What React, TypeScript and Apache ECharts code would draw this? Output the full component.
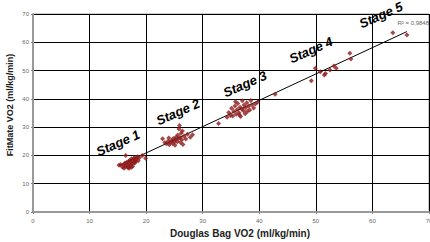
import React, { useEffect, useRef } from "react";
import * as echarts from "echarts";

const stage1 = [
  [15.2, 16.5], [15.5, 16.8], [15.8, 15.9], [16.0, 16.5], [16.2, 17.2], [16.3, 16.0], [16.5, 17.5],
  [16.6, 16.8], [16.8, 15.6], [16.9, 17.9], [17.0, 17.0], [17.1, 18.2], [17.2, 16.4], [17.3, 17.6],
  [17.4, 18.8], [17.5, 17.1], [17.6, 16.2], [17.7, 18.0], [17.8, 19.0], [17.9, 17.5], [18.0, 18.4],
  [18.1, 19.3], [18.2, 17.9], [18.3, 18.8], [18.5, 19.5], [16.4, 20.0], [16.7, 16.2], [17.0, 15.5],
  [18.0, 17.3], [18.8, 19.2], [19.3, 20.0], [19.9, 19.0], [17.4, 15.8], [16.1, 15.5], [18.6, 18.1],
];
const stage2 = [
  [22.9, 25.9], [23.3, 24.6], [23.6, 24.1], [23.9, 25.0], [24.1, 23.8], [24.3, 24.7], [24.5, 25.3],
  [24.7, 24.2], [24.8, 26.0], [25.0, 24.9], [25.1, 23.6], [25.2, 25.6], [25.3, 26.5], [25.5, 24.8],
  [25.6, 27.2], [25.7, 25.9], [25.8, 29.3], [25.9, 30.6], [26.0, 26.3], [26.1, 24.6], [26.2, 27.8],
  [26.3, 25.5], [26.5, 23.9], [26.7, 26.8], [27.0, 25.8], [27.3, 27.5], [27.8, 26.4], [28.2, 27.3],
  [24.0, 26.2], [26.4, 28.6],
];
const stage3 = [
  [32.8, 31.3], [34.3, 33.5], [34.6, 35.2], [34.9, 34.1], [35.1, 36.7], [35.3, 33.9], [35.5, 35.6],
  [35.7, 37.5], [35.9, 34.6], [36.1, 36.2], [36.2, 38.4], [36.4, 35.1], [36.6, 37.0], [36.7, 33.8],
  [36.9, 36.4], [37.0, 39.3], [37.2, 35.8], [37.3, 37.8], [37.5, 34.7], [37.6, 36.9], [37.8, 38.6],
  [37.9, 35.5], [38.1, 37.4], [38.3, 36.1], [38.5, 39.4], [38.7, 37.9], [39.0, 36.8], [39.3, 38.2],
  [39.7, 38.8], [35.8, 39.0], [36.5, 34.3], [42.8, 41.6],
];
const stage4 = [
  [49.2, 46.4], [49.9, 50.8], [50.8, 49.6], [51.5, 48.4], [51.7, 49.0], [52.5, 50.2], [53.2, 51.6],
  [53.6, 50.8], [56.0, 56.1], [56.2, 54.1],
];
const stage5 = [
  [63.6, 63.4], [66.1, 62.6],
];

const fitSlope = 0.931;
const fitIntercept = 2.25;
const fitRange = [15.2, 66.1];
const rSquaredLabel = "R² = 0,9848";

const xTicks = [0, 10, 20, 30, 40, 50, 60, 70];
const yTicks = [0, 10, 20, 30, 40, 50, 60, 70];
const xTitle = "Douglas Bag VO2 (ml/kg/min)";
const yTitle = "FitMate VO2 (ml/kg/min)";

const stageLabels = ["Stage 1", "Stage 2", "Stage 3", "Stage 4", "Stage 5"];
const stageLabelPos = [
  [118, 143],
  [178, 112],
  [245, 84],
  [311, 50],
  [381, 15],
];

export default function App() {
  const ref = useRef<HTMLDivElement>(null);
  useEffect(() => {
    if (!ref.current) return;
    const chart = echarts.init(ref.current, null, { renderer: "svg" });
    const points = [...stage1, ...stage2, ...stage3, ...stage4, ...stage5];
    const fitLine = fitRange.map((x) => [x, fitSlope * x + fitIntercept]);
    const font = "'Liberation Sans', Arial, sans-serif";
    chart.setOption({
      animation: false,
      grid: {
        left: 33, right: 1, top: 14, bottom: 30,
        containLabel: false, outerBoundsMode: "none",
        show: true, borderColor: "#999", borderWidth: 1,
      },
      xAxis: {
        type: "value",
        min: xTicks[0],
        max: xTicks[xTicks.length - 1],
        interval: 10,
        axisLine: { show: true, lineStyle: { color: "#999", width: 2 } },
        axisTick: { show: true, length: 2, lineStyle: { color: "#888" } },
        axisLabel: { fontSize: 6, color: "#666", fontFamily: font, margin: 6 },
        splitLine: { show: true, lineStyle: { color: "#000", width: 1 } },
      },
      yAxis: {
        type: "value",
        min: yTicks[0],
        max: yTicks[yTicks.length - 1],
        interval: 10,
        axisLine: { show: true, lineStyle: { color: "#999", width: 2 } },
        axisTick: { show: true, length: 2, lineStyle: { color: "#888" } },
        axisLabel: { fontSize: 6, color: "#666", fontFamily: font, margin: 4 },
        splitLine: { show: true, lineStyle: { color: "#000", width: 1 } },
      },
      series: [
        {
          type: "line",
          data: fitLine,
          symbol: "none",
          lineStyle: { color: "#000", width: 1 },
          z: 3,
        },
        {
          type: "scatter",
          data: points,
          symbol: "diamond",
          symbolSize: 5,
          itemStyle: { color: "#8f1a1a" },
          z: 4,
        },
      ],
      graphic: [
        ...stageLabels.map((t, i) => ({
          type: "text",
          x: stageLabelPos[i][0],
          y: stageLabelPos[i][1],
          rotation: 0.42,
          style: {
            text: t,
            fontFamily: font,
            fontSize: 13,
            fontWeight: "bold",
            fontStyle: "italic",
            fill: "#000",
            align: "center",
            verticalAlign: "middle",
          },
          z: 10,
        })),
        {
          type: "text",
          x: 429,
          y: 23,
          style: {
            text: rSquaredLabel,
            fontFamily: font,
            fontSize: 6,
            fill: "#666",
            align: "right",
            verticalAlign: "middle",
          },
          z: 10,
        },
        {
          type: "text",
          x: 240,
          y: 233,
          style: {
            text: xTitle,
            fontFamily: font,
            fontSize: 10,
            fontWeight: "bold",
            fill: "#222",
            align: "center",
            verticalAlign: "middle",
          },
        },
        {
          type: "text",
          x: 10,
          y: 105,
          rotation: Math.PI / 2,
          style: {
            text: yTitle,
            fontFamily: font,
            fontSize: 9,
            fontWeight: "bold",
            fill: "#222",
            align: "center",
            verticalAlign: "middle",
          },
        },
      ],
    });
    return () => chart.dispose();
  }, []);
  return (
    <div
      ref={ref}
      style={{ position: "absolute", left: 0, top: 0, width: 430, height: 242, background: "#fff" }}
    />
  );
}
